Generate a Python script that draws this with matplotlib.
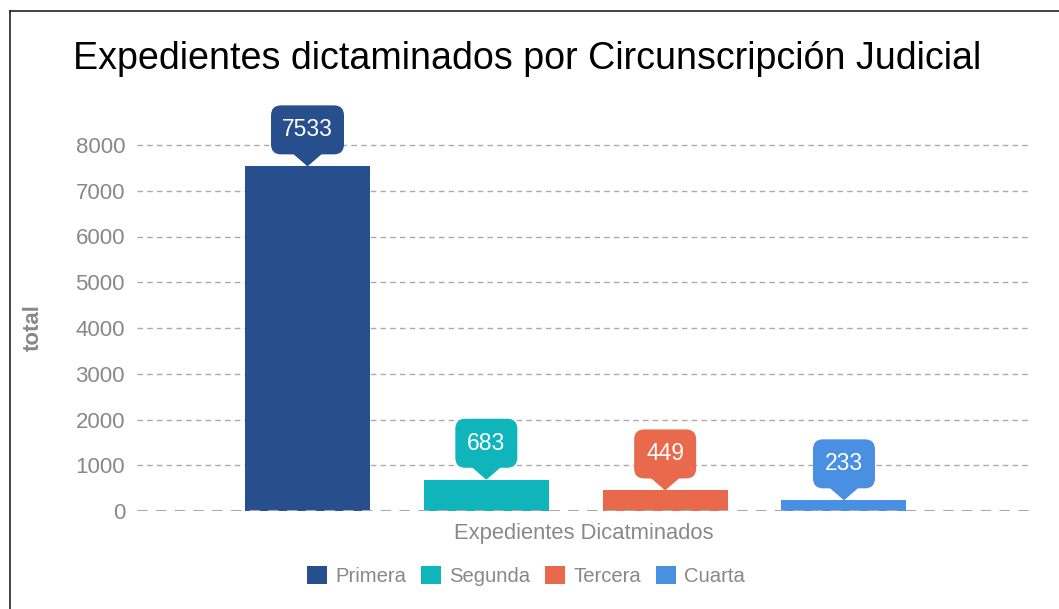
import matplotlib
matplotlib.use("Agg")
import matplotlib.pyplot as plt
from matplotlib.patches import FancyBboxPatch, Polygon
from matplotlib.lines import Line2D
import matplotlib.transforms as mtransforms

categories = ["Primera", "Segunda", "Tercera", "Cuarta"]
values = [7533, 683, 449, 233]
colors = ["#274F8D", "#10B4BB", "#E8694C", "#4A90E2"]
yticks = [0, 1000, 2000, 3000, 4000, 5000, 6000, 7000, 8000]
title = "Expedientes dictaminados por Circunscripción Judicial"
xlabel = "Expedientes Dicatminados"
ylabel = "total"

plt.rcParams['font.family'] = ['Liberation Sans', 'DejaVu Sans']

W, H = 1059, 609
fig = plt.figure(figsize=(W / 100, H / 100), dpi=100)

# axes in pixel geometry
x0, x1 = 137, 1032
y0 = 511
ppu = (511 - 145) / 8000.0
ytop_val = 8500
ytop = y0 - ytop_val * ppu
ax = fig.add_axes([x0 / W, (H - y0) / H, (x1 - x0) / W, (y0 - ytop) / H])

step = 178.83
xl = (x0 - 307.5) / step
xr = (x1 - 307.5) / step
ax.set_xlim(xl, xr)
ax.set_ylim(0, ytop_val)

xs = list(range(len(categories)))
bars = ax.bar(xs, values, width=125 / step, color=colors, zorder=3)

ax.set_yticks(yticks)
ax.set_yticklabels([str(t) for t in yticks], color="#888888", fontsize=16)
ax.tick_params(axis='y', length=0, pad=8.6)
ax.set_xticks([])
for s in ax.spines.values():
    s.set_visible(False)
for t in yticks:
    if t == 0:
        ax.axhline(t, color="#AAAAAA", lw=1.5, ls=(0, (5, 4)), zorder=4)
    else:
        ax.axhline(t, color="#AAAAAA", lw=1, ls=(0, (4, 3)), zorder=1)

# callouts
for x, v, c in zip(xs, values, colors):
    trans = fig.dpi_scale_trans + mtransforms.ScaledTranslation(x, v, ax.transData)
    s = 0.01
    bw = (73 if v >= 1000 else 62) * s
    bh = 49 * s
    ph = 12 * s
    pw = 15 * s
    box = FancyBboxPatch((-bw / 2, ph), bw, bh,
                         boxstyle="round,pad=0,rounding_size=0.1",
                         transform=trans, facecolor=c, edgecolor="none",
                         clip_on=False, zorder=5)
    ax.add_patch(box)
    tri = Polygon([(-pw, ph + 0.01), (pw, ph + 0.01), (0, 0)], closed=True,
                  transform=trans, facecolor=c, edgecolor="none",
                  clip_on=False, zorder=5)
    ax.add_patch(tri)
    ax.text(0, ph + bh / 2, str(v), transform=trans, ha="center", va="center",
            color="white", fontsize=16.5, zorder=6, clip_on=False)

# title & labels
fig.text(527 / W, 1 - 59 / H, title, ha="center", va="center", fontsize=27.1,
         color="#000000")
fig.text(584 / W, 1 - 533 / H, xlabel, ha="center", va="center", fontsize=15.8,
         color="#888888")
fig.text(33 / W, 1 - 328 / H, ylabel, ha="center", va="center", fontsize=16,
         color="#888888", rotation=90, fontweight="bold")

# legend
handles = [plt.Rectangle((0, 0), 1, 1, facecolor=c, edgecolor="none") for c in colors]
leg = fig.legend(handles, categories, loc="center", bbox_to_anchor=(526 / W, 1 - 576 / H),
                 ncol=4, frameon=False, fontsize=14.6, handlelength=1.0, handleheight=1.0,
                 handletextpad=0.4, columnspacing=0.72, labelcolor="#888888")

# border lines (left & top)
fig.add_artist(Line2D([9.5 / W, 9.5 / W], [0, 1 - 10.5 / H], transform=fig.transFigure,
                      color="#222222", lw=1.2))
fig.add_artist(Line2D([9.5 / W, 1], [1 - 10.5 / H, 1 - 10.5 / H], transform=fig.transFigure,
                      color="#222222", lw=1.2))

fig.savefig("out.png", dpi=100)
